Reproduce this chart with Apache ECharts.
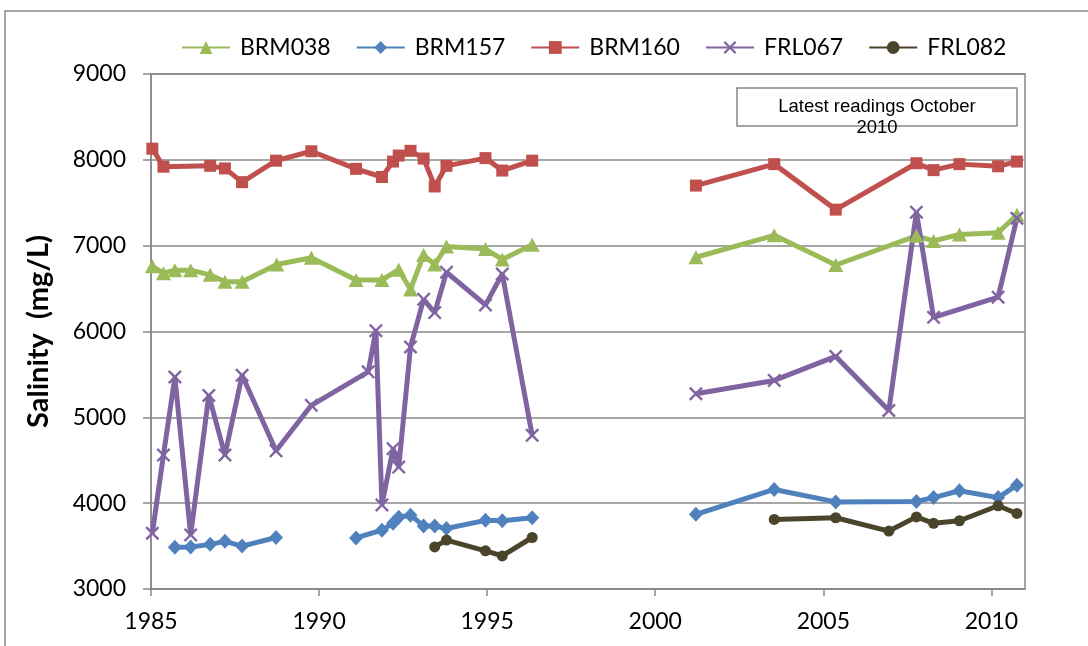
<!DOCTYPE html>
<html>
<head>
<meta charset="utf-8">
<script src="https://cdn.jsdelivr.net/npm/echarts@6/dist/echarts.min.js"></script>
<style>
  html, body { margin: 0; padding: 0; background: #fff; }
  #chart { width: 1088px; height: 646px; }
</style>
</head>
<body>
<div id="chart"></div>
<script>
// [year, mg/L]; null = gap in the record (line breaks there)
const brm038 = [
  [1985.04, 6760], [1985.37, 6680], [1985.71, 6715], [1986.18, 6715], [1986.76, 6660],
  [1987.2, 6580], [1987.71, 6580], [1988.74, 6780], [1989.77, 6860], [1991.1, 6600],
  [1991.87, 6600], [1992.37, 6720], [1992.72, 6490], [1993.11, 6890], [1993.44, 6780],
  [1993.79, 6990], [1994.95, 6960], [1995.45, 6840], [1996.34, 7010], [1998.5, null],
  [2001.21, 6865], [2003.54, 7120], [2005.37, 6775], [2007.77, 7115], [2008.28, 7055],
  [2009.05, 7130], [2010.2, 7150], [2010.76, 7360]
]
const brm157 = [
  [1985.71, 3485], [1986.18, 3490], [1986.76, 3520], [1987.2, 3555], [1987.71, 3500],
  [1988.72, 3600], [1989.77, null], [1991.1, 3595], [1991.87, 3685], [1992.2, 3765],
  [1992.37, 3835], [1992.72, 3860], [1993.11, 3735], [1993.44, 3735], [1993.79, 3705],
  [1994.95, 3800], [1995.45, 3795], [1996.34, 3830], [1998.5, null], [2001.21, 3870],
  [2003.54, 4160], [2005.37, 4015], [2007.77, 4020], [2008.28, 4065], [2009.05, 4145],
  [2010.2, 4065], [2010.76, 4210]
]
const brm160 = [
  [1985.04, 8130], [1985.37, 7920], [1986.76, 7930], [1987.2, 7900], [1987.71, 7740],
  [1988.72, 7990], [1989.77, 8100], [1991.1, 7895], [1991.87, 7800], [1992.2, 7980],
  [1992.37, 8050], [1992.72, 8105], [1993.11, 8015], [1993.44, 7690], [1993.79, 7930],
  [1994.95, 8020], [1995.45, 7875], [1996.34, 7990], [1998.5, null], [2001.21, 7700],
  [2003.54, 7950], [2005.37, 7420], [2007.77, 7960], [2008.28, 7880], [2009.05, 7950],
  [2010.2, 7925], [2010.76, 7980]
]
const frl067 = [
  [1985.04, 3650], [1985.37, 4560], [1985.71, 5470], [1986.18, 3630], [1986.72, 5255],
  [1987.2, 4560], [1987.71, 5490], [1988.72, 4610], [1989.77, 5140], [1991.46, 5530],
  [1991.69, 6010], [1991.87, 3980], [1992.2, 4635], [1992.37, 4420], [1992.72, 5820],
  [1993.11, 6375], [1993.44, 6220], [1993.79, 6690], [1994.95, 6310], [1995.45, 6670],
  [1996.34, 4790], [1998.5, null], [2001.21, 5275], [2003.54, 5430], [2005.37, 5710],
  [2006.95, 5080], [2007.77, 7390], [2008.28, 6165], [2010.2, 6400], [2010.76, 7320]
]
const frl082 = [
  [1993.44, 3490], [1993.79, 3570], [1994.95, 3445], [1995.45, 3385], [1996.34, 3600],
  [1998.5, null], [2003.54, 3810], [2005.37, 3830], [2006.95, 3675], [2007.77, 3840],
  [2008.28, 3765], [2009.05, 3795], [2010.2, 3970], [2010.76, 3880]
]

const seriesNames = ['BRM038', 'BRM157', 'BRM160', 'FRL067', 'FRL082']
const seriesData = [brm038, brm157, brm160, frl067, frl082]
const colors = ['#9BBB59', '#4F81BD', '#C0504D', '#8064A2', '#4A452A']
const symbols = [
  'triangle',
  'diamond',
  'rect',
  'path://M0,1.2L1.2,0L5,3.8L8.8,0L10,1.2L6.2,5L10,8.8L8.8,10L5,6.2L1.2,10L0,8.8L3.8,5Z',
  'circle'
]
const symbolSizes = [[15, 14], [14, 15], 12, 14, 11]

const yTicks = { min: 3000, max: 9000, step: 1000 }
const xTicks = { min: 1985, max: 2011, step: 5 }
const note = 'Latest readings October\n2010'

const chart = echarts.init(document.getElementById('chart'))
const gray = '#888888'
const font = 'Lato, "Open Sans", sans-serif'

const option = {
  animation: false,
  backgroundColor: '#fff',
  color: colors,
  textStyle: { fontFamily: font },
  grid: {
    left: 151, top: 74, right: 63, bottom: 57,
    show: true, borderColor: gray, borderWidth: 1.5
  },
  legend: {
    left: 176,
    top: 31,
    itemWidth: 48,
    itemHeight: 16,
    itemGap: 25,
    data: seriesNames,
    textStyle: { fontSize: 23, color: '#000', fontFamily: font, width: 108, padding: [0, 0, 0, 5] }
  },
  xAxis: {
    type: 'value',
    min: xTicks.min,
    max: xTicks.max,
    interval: xTicks.step,
    axisLine: { lineStyle: { color: gray, width: 1.5 } },
    axisTick: { length: 7, lineStyle: { color: gray, width: 1.5 } },
    axisLabel: { color: '#000', fontSize: 23, margin: 21, showMaxLabel: false, formatter: v => String(v) },
    splitLine: { show: false }
  },
  yAxis: {
    type: 'value',
    min: yTicks.min,
    max: yTicks.max,
    interval: yTicks.step,
    name: 'Salinity  (mg/L)',
    nameLocation: 'middle',
    nameGap: 98,
    nameTextStyle: { fontSize: 29, fontWeight: 'bold', color: '#000' },
    axisLine: { show: true, lineStyle: { color: gray, width: 1.5 } },
    axisTick: { show: true, length: 8, lineStyle: { color: gray, width: 1.5 } },
    axisLabel: { color: '#000', fontSize: 23, margin: 25, formatter: v => String(v) },
    splitLine: { lineStyle: { color: gray, width: 1.5 } }
  },
  graphic: [
    {
      type: 'rect',
      shape: { x: 5, y: 11, width: 1200, height: 800 },
      style: { fill: 'none', stroke: gray, lineWidth: 1.5 },
      silent: true
    },
    {
      type: 'rect',
      shape: { x: 737, y: 88, width: 280, height: 38 },
      style: { fill: '#fff', stroke: gray, lineWidth: 1.5 },
      z: 10
    },
    {
      type: 'text',
      x: 877,
      y: 96,
      style: {
        text: note,
        fill: '#000',
        font: '18.5px "Liberation Sans", Arial, sans-serif',
        align: 'center',
        lineHeight: 21
      },
      z: 11
    }
  ],
  series: seriesNames.map((name, i) => ({
    name: name,
    type: 'line',
    data: seriesData[i].map(p => [p[0], p[1] === null ? '-' : p[1]]),
    symbol: symbols[i],
    symbolSize: symbolSizes[i],
    showAllSymbol: true,
    connectNulls: false,
    lineStyle: { width: 5, color: colors[i] },
    itemStyle: { color: colors[i], borderWidth: 0 }
  }))
}

chart.setOption(option)
</script>
</body>
</html>
